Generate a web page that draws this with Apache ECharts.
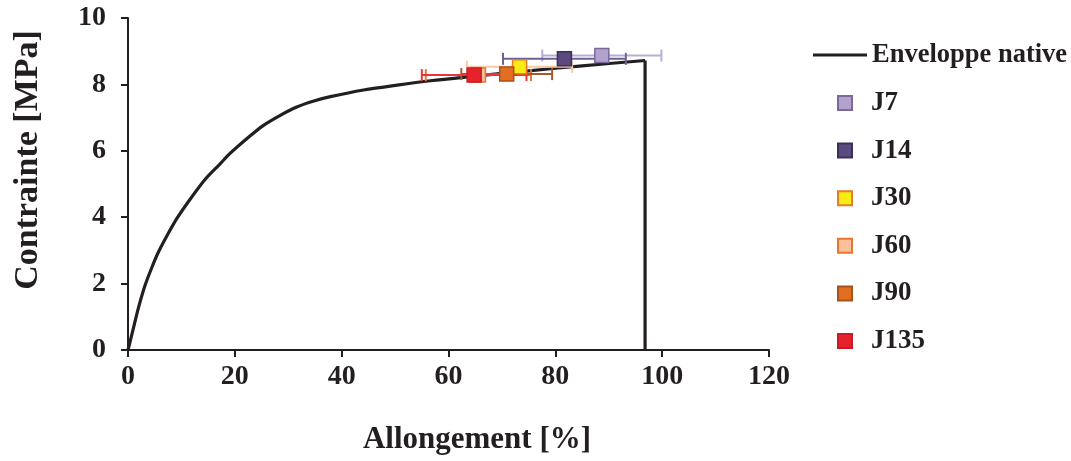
<!DOCTYPE html>
<html>
<head>
<meta charset="utf-8">
<script src="https://cdn.jsdelivr.net/npm/echarts@6/dist/echarts.min.js"></script>
<style>
html,body{margin:0;padding:0;background:#fff;}
#chart{width:1071px;height:461px;}
</style>
</head>
<body>
<div id="chart"></div>
<script>
// ---- data ----
const envelopeX = [0, 1, 2, 3.2, 4.5, 5.7, 7.5, 9.1, 11.9, 14.5, 17.2, 19.1, 22.5, 25.3, 28.5, 31.6, 34.8, 37.9, 44.1, 50.4, 56.6, 65, 75, 85, 96.8];
const envelopeY = [0, 0.65, 1.3, 1.95, 2.5, 2.95, 3.5, 3.95, 4.6, 5.15, 5.6, 5.92, 6.4, 6.76, 7.07, 7.32, 7.5, 7.63, 7.83, 7.98, 8.11, 8.25, 8.41, 8.56, 8.72];
const ruptureX = [96.8, 96.8];
const ruptureY = [8.72, 0];

const groupNames = ['J7', 'J14', 'J30', 'J60', 'J90', 'J135'];
const groupX     = [88.7, 81.7, 73.3, 65.6, 70.9, 64.8];
const groupY     = [8.87, 8.77, 8.53, 8.28, 8.31, 8.28];
const groupXErr  = [11.15, 11.5, 9.85, 9.85, 8.5, 9.8];

const xTicks = [0, 20, 40, 60, 80, 100, 120];
const yTicks = [0, 2, 4, 6, 8, 10];

// ---- styles ----
const fills   = ['#b3a3cc', '#5b4a7d', '#f7ec14', '#f9c29c', '#e26e22', '#e8222c'];
const borders = ['#7a6a9c', '#3d2f5c', '#ec7a24', '#ea7530', '#a5521f', '#c81c24'];
const errCols = ['#b9add5', '#6f5f95', '#f8c9a2', '#ea7432', '#a65a2c', '#e8343a'];

const ink = '#231f20';
const FONT = 'Liberation Serif';

const chart = echarts.init(document.getElementById('chart'), null, {renderer: 'canvas'});

const series = [];
series.push({
  name: 'Enveloppe native',
  type: 'line',
  data: envelopeX.map((x, i) => [x, envelopeY[i]]),
  showSymbol: false,
  symbol: 'none',
  smooth: 0.3,
  color: ink,
  lineStyle: {color: ink, width: 3.2},
  z: 2,
  animation: false
});
series.push({
  name: 'Enveloppe native',
  type: 'line',
  data: ruptureX.map((x, i) => [x, ruptureY[i]]),
  showSymbol: false,
  symbol: 'none',
  color: ink,
  lineStyle: {color: ink, width: 3.2},
  z: 2,
  animation: false
});

groupNames.forEach((n, i) => {
  series.push({
    name: n + ' err',
    type: 'custom',
    data: [[groupX[i], groupY[i], groupXErr[i]]],
    z: 3,
    animation: false,
    renderItem: function (params, api) {
      const x = api.value(0), y = api.value(1), e = api.value(2);
      const p1 = api.coord([x - e, y]);
      const p2 = api.coord([x + e, y]);
      const cap = 6;
      const st = {stroke: errCols[i], lineWidth: 2};
      return {
        type: 'group',
        children: [
          {type: 'line', shape: {x1: p1[0], y1: p1[1], x2: p2[0], y2: p2[1]}, style: st},
          {type: 'line', shape: {x1: p1[0], y1: p1[1] - cap, x2: p1[0], y2: p1[1] + cap}, style: st},
          {type: 'line', shape: {x1: p2[0], y1: p2[1] - cap, x2: p2[0], y2: p2[1] + cap}, style: st}
        ]
      };
    }
  });
});

groupNames.forEach((n, i) => {
  series.push({
    name: n,
    type: 'scatter',
    data: [[groupX[i], groupY[i]]],
    symbol: 'rect',
    symbolSize: 14,
    itemStyle: {color: fills[i], borderColor: borders[i], borderWidth: 1.5, opacity: 1},
    z: 4 + i,
    animation: false
  });
});

const axisCommon = {
  axisLine: {show: true, lineStyle: {color: ink, width: 2}},
  axisTick: {show: true, inside: false, length: 7, lineStyle: {color: ink, width: 2}},
  splitLine: {show: false},
  axisLabel: {color: ink, fontFamily: FONT, fontWeight: 'bold', fontSize: 28}
};

const option = {
  backgroundColor: '#fff',
  animation: false,
  grid: {left: 128, top: 18, width: 641, height: 332, containLabel: false},
  xAxis: Object.assign({}, axisCommon, {
    type: 'value', min: xTicks[0], max: xTicks[xTicks.length - 1], interval: xTicks[1] - xTicks[0],
    axisLabel: Object.assign({}, axisCommon.axisLabel, {margin: 13})
  }),
  yAxis: Object.assign({}, axisCommon, {
    type: 'value', min: yTicks[0], max: yTicks[yTicks.length - 1], interval: yTicks[1] - yTicks[0],
    axisLabel: Object.assign({}, axisCommon.axisLabel, {margin: 22})
  }),
  legend: [
    {
      data: [{name: 'Enveloppe native', icon: 'rect'}],
      left: 808, top: 35, orient: 'vertical',
      itemWidth: 54, itemHeight: 3,
      itemStyle: {color: ink},
      textStyle: {color: ink, fontFamily: FONT, fontWeight: 'bold', fontSize: 26.5, lineHeight: 30},
      selectedMode: false
    },
    {
      data: groupNames.map(n => ({name: n, icon: 'rect'})),
      left: 832, top: 83, orient: 'vertical',
      itemWidth: 14, itemHeight: 14, itemGap: 17.6,
      textStyle: {color: ink, fontFamily: FONT, fontWeight: 'bold', fontSize: 27, lineHeight: 30, padding: [0, 0, 0, 14]},
      selectedMode: false
    }
  ],
  graphic: [
    {type: 'text', x: 477, y: 440, style: {text: 'Allongement [%]', font: 'bold 31px "Liberation Serif"', fill: ink, textAlign: 'center', textVerticalAlign: 'middle'}},
    {type: 'text', x: 28, y: 160, rotation: Math.PI / 2, style: {text: 'Contrainte [MPa]', font: 'bold 34px "Liberation Serif"', fill: ink, textAlign: 'center', textVerticalAlign: 'middle'}}
  ],
  series: series
};

chart.setOption(option);
</script>
</body>
</html>
